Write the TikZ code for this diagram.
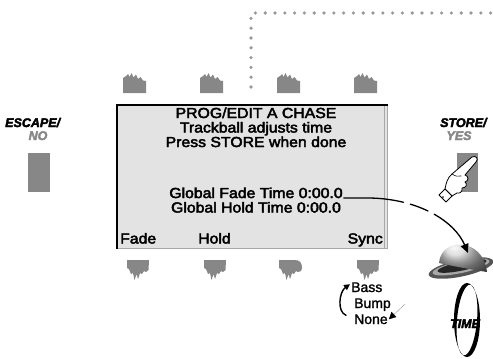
\documentclass[tikz,border=0pt]{standalone}
\usepackage{fontspec}
\setmainfont{Liberation Sans}
\newfontfamily\lcdfont[FakeStretch=1.09,FakeBold=3]{Liberation Sans}
\newfontfamily\capfont[FakeBold=3]{Liberation Sans Bold Italic}
\newfontfamily\modefont[FakeBold=1.5]{Liberation Sans}
\usetikzlibrary{arrows.meta}
\definecolor{keygrey}{HTML}{878787}
\definecolor{lcdgrey}{HTML}{E3E3E3}
\definecolor{rimgrey}{HTML}{A8A8A8}
\definecolor{dotgrey}{HTML}{999999}

\begin{document}
\begin{tikzpicture}[line cap=round,line join=round,x=1pt,y=-1pt,
		lcdtext/.style={inner sep=0pt,anchor=base,font=\lcdfont\fontsize{14.5}{12}\selectfont},
		keytext/.style={inner sep=0pt,anchor=base,font=\capfont\fontsize{12.5}{12}\selectfont},
		modetext/.style={inner sep=0pt,anchor=base west,font=\modefont\fontsize{14}{14}\selectfont},
		topkey/.pic={\fill[keygrey] (0,20) -- (0,5) -- (3,3) -- (5,1) -- (6.5,4) -- (8.5,0) -- (10.5,4.5) -- (13,1.5) -- (15,6) -- (17.5,4) -- (20,7.5) -- (23,8) -- (23,20) -- cycle;},
		softkey/.pic={\fill[keygrey] (0,0) -- (22,0) -- (21.5,10) -- (19,12) -- (17,11) -- (15,14) -- (13,13) -- (11,19) -- (9.5,14) -- (7.5,20) -- (6,13) -- (4,14) -- (2,9) -- (0,8) -- cycle;},
		roundkey/.pic={\fill[keygrey] (0,0) -- (16,0) .. controls (21,0) and (23,3) .. (23,8) -- (22,11) -- (19,12) -- (17,11) -- (15,14) -- (13,13) -- (11,19) -- (9.5,14) -- (7.5,20) -- (6,13) -- (4,14) -- (2,9) -- (0,8) -- cycle;}]
	\useasboundingbox (0,0) rectangle (493,359);
	\draw [dotgrey,line width=3.6pt,dash pattern=on 0pt off 9.8pt] (251,87) -- (251,13) -- (500,13);
	\pic at (123,73) {topkey};
	\pic at (200,73) {topkey};
	\pic at (277,73) {topkey};
	\pic at (354,73) {topkey};
	\fill [lcdgrey] (116,104) rectangle (388,249);
	\draw [line width=2.5pt,line cap=butt] (116,105) -- (388,105);
	\draw [line width=1.8pt,line cap=butt] (117,104) -- (117,249);
	\draw [rimgrey,line width=1.2pt,line cap=butt] (384.5,106) -- (384.5,249);
	\draw [rimgrey,line width=1.2pt,line cap=butt] (387.5,106) -- (387.5,249);
	\draw [rimgrey,line width=1.5pt,line cap=butt] (118,248.5) -- (388,248.5);
	\node [lcdtext] (title) at (256,118) {PROG/EDIT A CHASE};
	\node [lcdtext] (hint) at (256,132.5) {Trackball adjusts time};
	\node [lcdtext] (store) at (256,147) {Press STORE when done};
	\node [lcdtext] (fadetime) at (256,198) {Global Fade Time 0:00.0};
	\node [lcdtext] (holdtime) at (256,212.5) {Global Hold Time 0:00.0};
	\node [lcdtext,anchor=base west] (fade) at (120,243.5) {Fade};
	\node [lcdtext,anchor=base west] (hold) at (198,243.5) {Hold};
	\node [lcdtext,anchor=base east] (sync) at (383,243.5) {Sync};
	\pic at (127,260) {softkey};
	\pic at (204,260) {softkey};
	\pic at (279,260) {roundkey};
	\pic at (357,260) {softkey};
	\node [keytext,anchor=base west] (escape) at (5,127) {ESCAPE/};
	\node [keytext,text=keygrey] (no) at (38,140) {NO};
	\fill [keygrey] (28,153) rectangle (50,192);
	\node [keytext,anchor=base west] (storekey) at (440,127) {STORE/};
	\node [keytext,text=keygrey] (yes) at (459,140) {YES};
	\fill [keygrey] (457,153) rectangle (478,192);
	\draw [fill=white,line width=0.8pt] (472,157) .. controls (476,155) and (479,159) .. (476,162) -- (465,175) .. controls (469,176) and (469,181) .. (465,182) .. controls (468,184) and (466,188) .. (462,188) .. controls (463,191) and (460,194) .. (457,193) -- (452,196) -- (445,189) .. controls (446,184) and (447,178) .. (452,174) -- cycle;
	\draw [line width=0.6pt] (452,174) .. controls (455,176) and (458,177) .. (461,176);
	\draw [fill=white,line width=0.8pt] (445,189) -- (452,196) -- (446,202) -- (439,195) -- cycle;
	\fill (443,197) circle (0.8pt);
	\fill [rimgrey!50!black] (461,268) ellipse [x radius=33,y radius=8.5,rotate=12];
	\fill [rimgrey] (461,267) ellipse [x radius=29,y radius=6,rotate=12];
	\fill [black!85] (462,266) ellipse [x radius=25,y radius=4.5,rotate=12];
	\shade [ball color=gray!35] (439,263) .. controls (441,237) and (483,237) .. (487,272) .. controls (474,270) and (452,266) .. (439,263) -- cycle;
	\coordinate (ball) at (468,253);
	\draw [line width=1.3pt,dash pattern=on 60pt off 7pt on 19pt off 7pt on 300pt,-{Triangle[length=9pt,width=8pt]}] ([xshift=1pt]fadetime.base east) -- ++(26,0) .. controls (420,199) and (455,222) .. (ball);
	\fill [even odd rule] (467,320) ellipse [x radius=13,y radius=37] (467,320) ellipse [x radius=10,y radius=35.5,rotate=-5];
	\node [keytext] (timelabel) at (465,328) {TIME};
	\node [modetext] (bass) at (351,292) {Bass};
	\node [modetext] (bump) at (354,308) {Bump};
	\node [modetext] (none) at (354,324) {None};
	\coordinate (cycletop) at (405,304);
	\draw [line width=1.4pt,-{Triangle[length=6pt,width=6pt]}] ([xshift=-8pt,yshift=4pt]none.west) .. controls (337,312) and (339,292) .. ([xshift=-1pt,yshift=-2pt]bass.north west);
	\draw [gray,line width=0.3pt,-{Triangle[length=7pt,width=7pt,black]}] (cycletop) -- ([xshift=1pt]none.east);
\end{tikzpicture}
\end{document}
